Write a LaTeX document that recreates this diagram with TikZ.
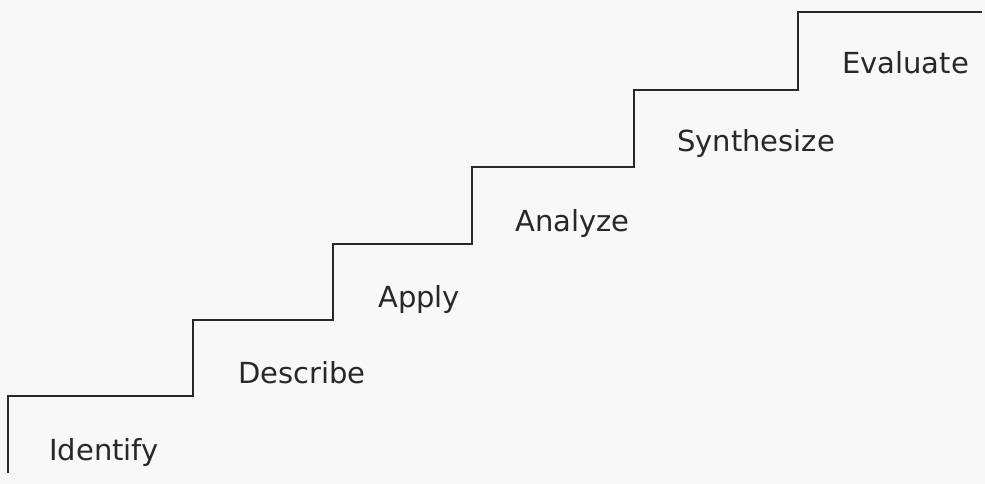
\documentclass[tikz,border=0pt]{standalone}
\usepackage{fontspec}
\setmainfont{DejaVu Sans}
\definecolor{paper}{RGB}{248,248,248}
\definecolor{ink}{RGB}{40,40,40}
\begin{document}
\begin{tikzpicture}[x=1pt,y=-1pt,
  stair/.style={draw=ink,line width=1.3pt,line join=miter},
  steplabel/.style={anchor=base west,inner sep=0pt,text=ink,font=\fontsize{29}{34}\selectfont}]
\fill[paper] (0,0) rectangle (985,484);
\useasboundingbox (0,0) rectangle (985,484);
\draw[stair] (8,473) -- (8,396) -- (193,396) -- (193,320) -- (333,320) -- (333,244)
  -- (472,244) -- (472,167) -- (634,167) -- (634,90) -- (798,90) -- (798,12) -- (982,12);
\node[steplabel] (identify) at (49,460) {Identify};
\node[steplabel] (describe) at (238,383) {Describe};
\node[steplabel] (apply) at (378,307) {Apply};
\node[steplabel] (analyze) at (515,231) {Analyze};
\node[steplabel] (synthesize) at (677,152) {Synthesize};
\node[steplabel] (evaluate) at (842,74) {Evaluate};
\end{tikzpicture}
\end{document}
